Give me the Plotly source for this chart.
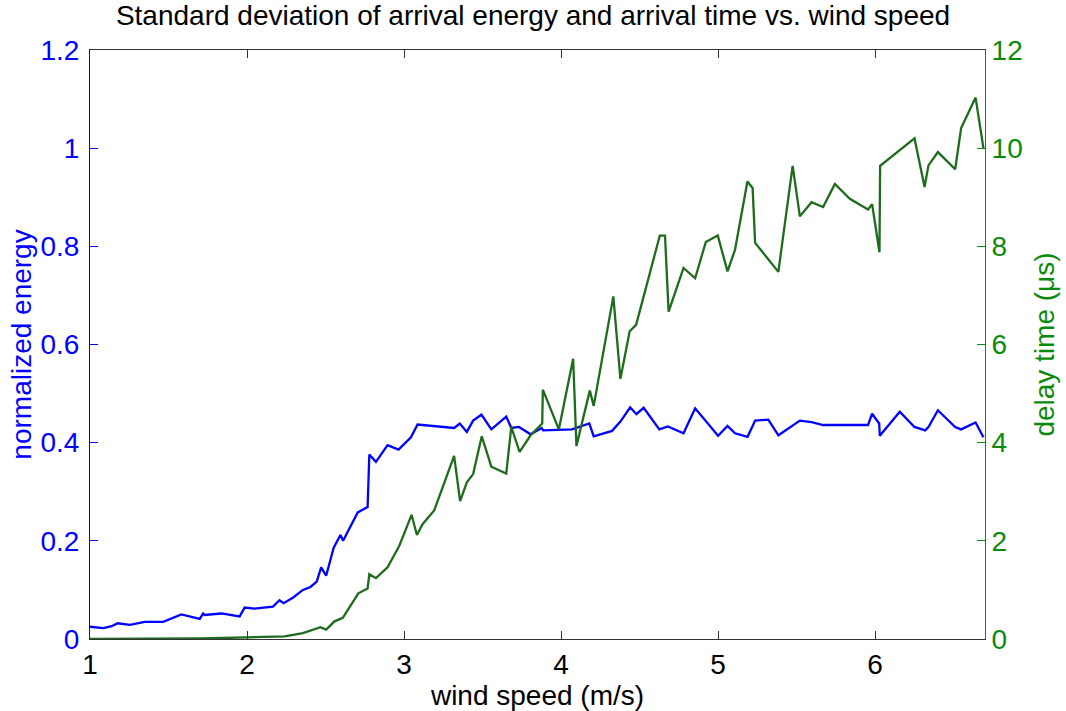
import plotly.graph_objects as go

# Normalized energy (left axis)
energy_x = [1.0, 1.085, 1.138, 1.176, 1.254, 1.349, 1.466, 1.582, 1.699, 1.72, 1.73, 1.836, 1.953,
            1.985, 2.048, 2.165, 2.207, 2.233, 2.292, 2.356, 2.404, 2.444, 2.472, 2.504, 2.552,
            2.595, 2.612, 2.705, 2.768, 2.779, 2.821, 2.895, 2.965, 3.044, 3.086, 3.319, 3.355,
            3.40, 3.44, 3.493, 3.556, 3.651, 3.683, 3.732, 3.806, 3.876, 3.886, 4.07, 4.18, 4.208,
            4.325, 4.378, 4.44, 4.48, 4.526, 4.626, 4.68, 4.78, 4.854, 5.0, 5.06, 5.108, 5.188,
            5.236, 5.32, 5.384, 5.521, 5.595, 5.669, 5.955, 5.981, 6.026, 6.03, 6.157, 6.251,
            6.319, 6.34, 6.40, 6.51, 6.548, 6.64, 6.69]
energy_y = [0.025, 0.022, 0.026, 0.032, 0.029, 0.035, 0.035, 0.050, 0.041, 0.052, 0.049, 0.052, 0.046,
            0.064, 0.062, 0.066, 0.079, 0.073, 0.084, 0.100, 0.106, 0.117, 0.146, 0.129, 0.186,
            0.212, 0.200, 0.258, 0.269, 0.376, 0.361, 0.395, 0.386, 0.411, 0.437, 0.430, 0.439,
            0.422, 0.445, 0.457, 0.427, 0.453, 0.430, 0.432, 0.417, 0.430, 0.425, 0.427, 0.439, 0.413,
            0.424, 0.443, 0.472, 0.458, 0.471, 0.427, 0.433, 0.419, 0.470, 0.414, 0.434, 0.419, 0.412,
            0.445, 0.447, 0.415, 0.445, 0.442, 0.436, 0.436, 0.459, 0.439, 0.414, 0.463, 0.432,
            0.425, 0.432, 0.466, 0.432, 0.427, 0.441, 0.411]

# Delay time (right axis, microseconds)
delay_x = [1.0, 1.5, 1.7, 1.85, 1.96, 2.1, 2.239, 2.356, 2.468, 2.504, 2.557, 2.61, 2.709, 2.768,
           2.779, 2.821, 2.895, 2.97, 3.048, 3.082, 3.118, 3.192, 3.319, 3.357, 3.40, 3.44,
           3.495, 3.556, 3.651, 3.683, 3.736, 3.806, 3.88, 3.884, 3.986, 4.077, 4.098, 4.183,
           4.208, 4.333, 4.378, 4.437, 4.478, 4.629, 4.662, 4.685, 4.78, 4.854, 4.922, 4.998,
           5.06, 5.108, 5.187, 5.22, 5.236, 5.384, 5.475, 5.521, 5.595, 5.669, 5.744, 5.839,
           5.955, 5.981, 6.028, 6.032, 6.251, 6.315, 6.34, 6.40, 6.51, 6.548, 6.64, 6.69]
delay_y = [0.0, 0.0, 0.01, 0.02, 0.03, 0.04, 0.055, 0.12, 0.24, 0.19, 0.36, 0.43, 0.93, 1.03,
           1.32, 1.24, 1.46, 1.90, 2.53, 2.12, 2.34, 2.62, 3.73, 2.81, 3.19, 3.36,
           4.13, 3.51, 3.37, 4.32, 3.81, 4.15, 4.39, 5.08, 4.27, 5.71, 3.93, 5.06,
           4.75, 6.98, 5.30, 6.27, 6.40, 8.22, 8.22, 6.67, 7.56, 7.35, 8.09, 8.22,
           7.49, 7.93, 9.32, 9.19, 8.07, 7.48, 9.64, 8.61, 8.90, 8.80, 9.27, 8.97,
           8.75, 8.86, 7.88, 9.64, 10.20, 9.21, 9.65, 9.92, 9.57, 10.41, 11.03, 10.0]

x_ticks = [1, 2, 3, 4, 5, 6]
energy_ticks = [0, 0.2, 0.4, 0.6, 0.8, 1, 1.2]
energy_tick_text = ["0", "0.2", "0.4", "0.6", "0.8", "1", "1.2"]
delay_ticks = [0, 2, 4, 6, 8, 10, 12]

BLUE = "#0000ff"
GREEN_LINE = "#1e6b1e"
GREEN_AXIS = "#0a8a0a"
FONT = "Liberation Sans, Arial, sans-serif"
FS = 28

fig = go.Figure()
fig.add_trace(go.Scatter(x=energy_x, y=energy_y, mode="lines",
                         line=dict(color=BLUE, width=2.3), yaxis="y", showlegend=False))
fig.add_trace(go.Scatter(x=delay_x, y=delay_y, mode="lines",
                         line=dict(color=GREEN_LINE, width=2.3), yaxis="y2", showlegend=False))

fig.update_layout(
    width=1066, height=711,
    margin=dict(l=90, r=79, t=50, b=71),
    paper_bgcolor="white", plot_bgcolor="white",
    font=dict(family=FONT, size=FS, color="black"),
    title=dict(text="Standard deviation of arrival energy and arrival time vs. wind speed",
               x=0.5, xanchor="center", y=0.992, yanchor="top",
               font=dict(size=28, color="black")),
    xaxis=dict(range=[1, 6.7], tickvals=x_ticks, ticks="inside", ticklen=8,
               tickcolor="#333", showline=True, linecolor="#333", linewidth=1,
               mirror="ticks", showgrid=False, zeroline=False,
               title=dict(text="wind speed (m/s)", standoff=0, font=dict(size=FS)),
               tickfont=dict(size=FS)),
    yaxis=dict(range=[0, 1.2], tickvals=energy_ticks, ticktext=energy_tick_text,
               ticks="inside", ticklen=8, tickcolor=BLUE, showline=True, linecolor=BLUE,
               linewidth=1, showgrid=False, zeroline=False, color=BLUE,
               ticklabelstandoff=4,
               tickfont=dict(size=FS, color=BLUE),
               title=dict(text="normalized energy", standoff=0, font=dict(size=FS, color=BLUE))),
    yaxis2=dict(range=[0, 12], tickvals=delay_ticks, overlaying="y", side="right",
                ticks="inside", ticklen=8, tickcolor=GREEN_AXIS, showline=True,
                linecolor=GREEN_AXIS, linewidth=1, showgrid=False, zeroline=False,
                color=GREEN_AXIS, tickfont=dict(size=FS, color=GREEN_AXIS),
                title=dict(text="delay time (μs)", standoff=12, font=dict(size=FS, color=GREEN_AXIS))),
)

fig.write_html("out.html")
